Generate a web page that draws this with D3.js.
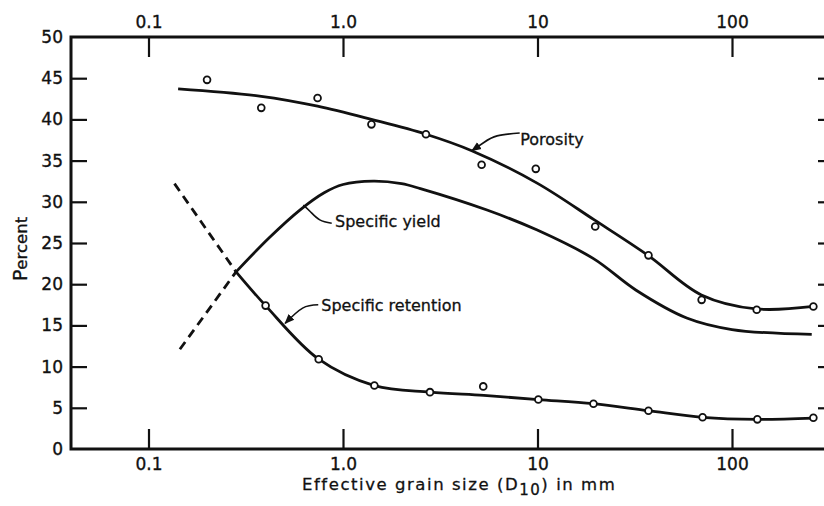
<!DOCTYPE html>
<html>
<head>
<meta charset="utf-8">
<script src="https://cdn.jsdelivr.net/npm/d3@7"></script>
<style>
  body { margin: 0; background: #fff; }
  svg { display: block; font-family: "DejaVu Sans", sans-serif; }
</style>
</head>
<body>
<div id="chart"></div>
<script>
// measured points (circles)
const porositySize = [0.2, 0.38, 0.74, 1.4, 2.67, 5.16, 9.8, 19.8, 37.2, 69.8, 134, 262];
const porosityPct = [44.8, 41.4, 42.6, 39.4, 38.2, 34.5, 34.0, 27.0, 23.5, 18.1, 16.9, 17.3];
const retentionSize = [0.4, 0.75, 1.45, 2.8, 5.26, 10.1, 19.4, 37.2, 70.6, 135, 262];
const retentionPct = [17.4, 10.9, 7.7, 6.9, 7.6, 6.0, 5.5, 4.65, 3.85, 3.6, 3.8];

// fitted curves
const porosityCurveSize = [0.142, 0.38, 0.74, 1.4, 2.67, 4.59, 9.9, 19.6, 37, 69.6, 133, 262];
const porosityCurvePct = [43.7, 42.8, 41.6, 40.0, 38.2, 36.2, 32.3, 27.8, 23.5, 18.7, 17.0, 17.3];
const yieldCurveSize = [0.282, 0.42, 0.6, 0.8, 1.0, 1.43, 2.0, 2.5, 5.5, 9.9, 19.4, 32, 58.5, 100, 257];
const yieldCurvePct = [21.5, 25.7, 29.0, 31.1, 32.1, 32.5, 32.2, 31.6, 29.0, 26.6, 23.1, 19.3, 15.9, 14.5, 13.9];
const retentionCurveSize = [0.282, 0.4, 0.75, 1.45, 2.8, 5.3, 10.1, 19.4, 37.2, 70.6, 135, 262];
const retentionCurvePct = [21.5, 17.4, 10.9, 7.7, 6.9, 6.5, 6.0, 5.5, 4.65, 3.85, 3.6, 3.75];

// dashed extrapolations
const yieldDashSize = [0.145, 0.282];
const yieldDashPct = [12.1, 21.5];
const retentionDashSize = [0.136, 0.282];
const retentionDashPct = [32.2, 21.5];

// axes
const xTicks = [0.1, 1, 10, 100];
const xTickLabels = ["0.1", "1.0", "10", "100"];
const yTicks = [0, 5, 10, 15, 20, 25, 30, 35, 40, 45, 50];

// annotation leaders [size, pct]
const porosityLeader = [[8.1, 38.35], [6.2, 38.0], [5.3, 37.2], [4.6, 36.2]];
const yieldLeader = [[0.625, 29.6], [0.68, 28.8], [0.76, 27.8], [0.875, 27.4]];
const retentionLeader = [[0.746, 17.5], [0.62, 17.1], [0.504, 15.25]];
const labels = [
  { text: "Porosity", size: 8.15, pct: 36.9 },
  { text: "Specific yield", size: 0.91, pct: 26.9 },
  { text: "Specific retention", size: 0.773, pct: 16.7 },
];

const width = 824;
const height = 506;
const ink = "#111";

const svg = d3.select("#chart")
  .append("svg")
  .attr("width", width)
  .attr("height", height);

const x = d3.scaleLog().domain([0.1, 100]).range([148.5, 732]);
const y = d3.scaleLinear().domain([0, 50]).range([449, 37]);
const left = 71, right = 828;

const zip = (xs, ys) => xs.map((d, i) => [d, ys[i]]);

// frame
svg.append("path")
  .attr("d", `M${left},${y(0)}V${y(50)}H${right}V${y(0)}Z`)
  .attr("fill", "none")
  .attr("stroke", ink)
  .attr("stroke-width", 3);

const fmt = (d) => xTickLabels[xTicks.indexOf(d)];

const bottomAxis = svg.append("g")
  .attr("transform", `translate(0,${y(0)})`)
  .call(d3.axisBottom(x).tickValues(xTicks).tickFormat(fmt).tickSizeInner(-20).tickSizeOuter(0).tickPadding(9));
const topAxis = svg.append("g")
  .attr("transform", `translate(0,${y(50)})`)
  .call(d3.axisTop(x).tickValues(xTicks).tickFormat(fmt).tickSizeInner(-20).tickSizeOuter(0).tickPadding(9));
const leftAxis = svg.append("g")
  .attr("transform", `translate(${left},0)`)
  .call(d3.axisLeft(y).tickValues(yTicks).tickSizeInner(-16).tickSizeOuter(0).tickPadding(8));
const rightAxis = svg.append("g")
  .attr("transform", `translate(${right},0)`)
  .call(d3.axisLeft(y).tickValues(yTicks.slice(1, -1)).tickFormat("").tickSizeInner(10).tickSizeOuter(0));

[bottomAxis, topAxis, leftAxis, rightAxis].forEach((g) => {
  g.select(".domain").remove();
  g.selectAll(".tick line").attr("stroke", ink).attr("stroke-width", 2.2);
  g.selectAll(".tick text")
    .attr("fill", ink)
    .attr("stroke", ink)
    .attr("stroke-width", 0.35)
    .attr("font-size", 17)
    .attr("font-family", "DejaVu Sans, sans-serif");
});
leftAxis.selectAll(".tick").filter((d) => d === 0 || d === 50).select("line").remove();

// axis titles
const xTitle = svg.append("text")
  .attr("x", 302)
  .attr("y", 490)
  .attr("font-size", 16.5)
  .attr("letter-spacing", 1.55)
  .attr("fill", ink)
  .attr("stroke", ink)
  .attr("stroke-width", 0.3);
xTitle.append("tspan").text("Effective grain size (D");
xTitle.append("tspan").attr("dy", 5).attr("font-size", 15).text("10");
xTitle.append("tspan").attr("dy", -5).text(") in mm");

const yTitle = svg.append("text")
  .attr("transform", "translate(27,249) rotate(-90)")
  .attr("text-anchor", "middle")
  .attr("font-size", 16.5)
  .attr("fill", ink)
  .attr("stroke", ink)
  .attr("stroke-width", 0.3);
yTitle.append("tspan").attr("font-size", 19).text("P");
yTitle.append("tspan").text("ercent");

// curves
const smooth = d3.line()
  .x((d) => x(d[0]))
  .y((d) => y(d[1]))
  .curve(d3.curveCatmullRom.alpha(0.5));

[
  zip(porosityCurveSize, porosityCurvePct),
  zip(yieldCurveSize, yieldCurvePct),
  zip(retentionCurveSize, retentionCurvePct),
].forEach((pts) => {
  svg.append("path")
    .attr("d", smooth(pts))
    .attr("fill", "none")
    .attr("stroke", ink)
    .attr("stroke-width", 2.8)
    .attr("stroke-linejoin", "round");
});

[zip(yieldDashSize, yieldDashPct), zip(retentionDashSize, retentionDashPct)].forEach((pts) => {
  svg.append("path")
    .attr("d", d3.line().x((d) => x(d[0])).y((d) => y(d[1]))(pts))
    .attr("fill", "none")
    .attr("stroke", ink)
    .attr("stroke-width", 2.8)
    .attr("stroke-dasharray", "9 6");
});

// measured points
const points = zip(porositySize, porosityPct).concat(zip(retentionSize, retentionPct));
svg.append("g")
  .selectAll("circle")
  .data(points)
  .join("circle")
  .attr("cx", (d) => x(d[0]))
  .attr("cy", (d) => y(d[1]))
  .attr("r", 3.4)
  .attr("fill", "#fff")
  .attr("stroke", ink)
  .attr("stroke-width", 1.8);

// leaders + labels
svg.append("defs")
  .append("marker")
  .attr("id", "arrow")
  .attr("viewBox", "0 0 10 10")
  .attr("refX", 9)
  .attr("refY", 5)
  .attr("markerWidth", 10)
  .attr("markerHeight", 10)
  .attr("markerUnits", "userSpaceOnUse")
  .attr("orient", "auto")
  .append("path")
  .attr("d", "M0,1L10,5L0,9Z")
  .attr("fill", ink);

const leaderLine = d3.line()
  .x((d) => x(d[0]))
  .y((d) => y(d[1]))
  .curve(d3.curveNatural);

[
  { pts: porosityLeader, arrow: true },
  { pts: yieldLeader.slice().reverse(), arrow: false },
  { pts: retentionLeader, arrow: true },
].forEach((l) => {
  svg.append("path")
    .attr("d", leaderLine(l.pts))
    .attr("fill", "none")
    .attr("stroke", ink)
    .attr("stroke-width", 1.6)
    .attr("marker-end", l.arrow ? "url(#arrow)" : null);
});

svg.append("g")
  .selectAll("text")
  .data(labels)
  .join("text")
  .attr("x", (d) => x(d.size))
  .attr("y", (d) => y(d.pct))
  .attr("font-size", 16)
  .attr("fill", ink)
  .attr("stroke", ink)
  .attr("stroke-width", 0.3)
  .text((d) => d.text);
</script>
</body>
</html>
